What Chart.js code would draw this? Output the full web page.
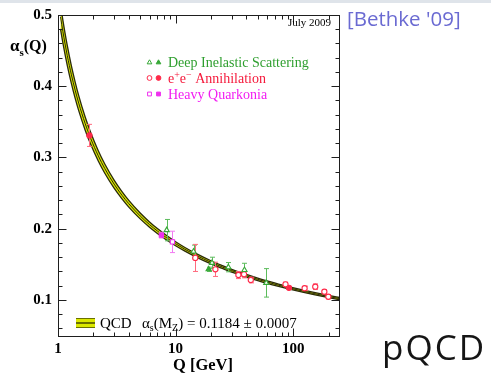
<!DOCTYPE html>
<html><head><meta charset="utf-8">
<script src="https://cdn.jsdelivr.net/npm/chart.js@4.4.0/dist/chart.umd.min.js"></script>
<style>
html,body{margin:0;padding:0;background:#fff;}
#wrap{position:relative;width:491px;height:374px;overflow:hidden;background:#fff;}
#topbar{position:absolute;left:0;top:0;width:491px;height:3px;background:#dfe4ea;}
#bethke{position:absolute;left:347px;top:8px;font-family:"Open Sans";font-size:20.5px;color:#6a6ad2;white-space:nowrap;line-height:1;}
#pqcd{position:absolute;left:382px;top:329px;font-family:"Open Sans";font-size:35px;color:#151515;letter-spacing:2px;white-space:nowrap;line-height:1;}
canvas{position:absolute;left:0;top:0;}
</style></head>
<body>
<div id="wrap">
<canvas id="c" width="491" height="374"></canvas>
<div id="topbar"></div>
<div id="bethke">[Bethke '09]</div>
<div id="pqcd">pQCD</div>
</div>
<script>
// ---- data ----
const bandQ = [1.05,1.1,1.2,1.3,1.4,1.5,1.7,1.9,2.2,2.5,3.0,3.5,4.0,5.0,6.0,7.0,8.5,10,12,15,20,25,30,40,50,60,75,91,120,150,200,250];
const bandCentral = [0.4975,0.4769,0.4429,0.4161,0.3944,0.3763,0.3479,0.3264,0.3023,0.2844,0.2626,0.2470,0.2351,0.2179,0.2058,0.1968,0.1866,0.1789,0.1711,0.1626,0.1528,0.1462,0.1411,0.1340,0.1289,0.1251,0.1207,0.1172,0.1125,0.1090,0.1048,0.1018];
const bandUpper = [0.5145,0.4929,0.4569,0.4286,0.4059,0.3868,0.3571,0.3346,0.3095,0.2909,0.2683,0.2521,0.2398,0.2220,0.2095,0.2002,0.1897,0.1817,0.1737,0.1650,0.1550,0.1482,0.1430,0.1358,0.1306,0.1268,0.1223,0.1188,0.1141,0.1106,0.1064,0.1034];
const bandLower = [0.4805,0.4609,0.4289,0.4036,0.3829,0.3658,0.3387,0.3182,0.2951,0.2779,0.2569,0.2419,0.2304,0.2138,0.2021,0.1934,0.1835,0.1761,0.1685,0.1602,0.1506,0.1442,0.1392,0.1322,0.1272,0.1234,0.1191,0.1156,0.1109,0.1074,0.1032,0.1002];

const disOpenQ = [8.4, 14.2, 20.4, 28.1, 38.5, 59];
const disOpenA = [0.198, 0.168, 0.152, 0.146, 0.142, 0.124];
const disOpenErr = [0.015, 0.009, 0.008, 0.0065, 0.0095, 0.020];
const disFilledQ = [19.1];
const disFilledA = [0.143];
const disFilledErr = [0.003];

const eeOpenQ = [14.7, 21.8, 34.2, 38.2, 43.6, 86, 125, 154, 184, 199];
const eeOpenA = [0.159, 0.143, 0.135, 0.136, 0.128, 0.122, 0.1164, 0.1186, 0.1116, 0.1045];
const eeOpenErr = [0.019, 0.010, 0.005, 0.005, 0.004, 0.003, 0.003, 0.004, 0.003, 0.003];
const eeFilledQ = [1.85, 92];
const eeFilledA = [0.331, 0.117];
const eeFilledErr = [0.0155, 0.002];

const hqOpenQ = [9.4];
const hqOpenA = [0.1815];
const hqOpenErr = [0.015];
const hqFilledQ = [7.57];
const hqFilledA = [0.191];
const hqFilledErr = [0.004];

const yTickLabels = [0.1, 0.2, 0.3, 0.4, 0.5];
const xTickLabels = [1, 10, 100];
const yMinorTicks = [0.06,0.08,0.12,0.14,0.16,0.18,0.22,0.24,0.26,0.28,0.32,0.34,0.36,0.38,0.42,0.44,0.46,0.48];
const xMinorTicks = [2,3,4,5,6,7,8,9,20,30,40,50,60,70,80,90,200];

// ---- colours ----
const GREEN = '#36a836', GREEN_BAR = '#5cbc5c', GREEN_TXT = '#2f9f2f';
const RED = '#ff2a4a', RED_BAR = '#ff6a7e', RED_TXT = '#f5183a';
const MAG = '#ee30ee', MAG_BAR = '#f27af2', MAG_TXT = '#f21cf2';
const BAND_EDGE = '#2b2b0a', BAND_FILL = '#dbe800';

const zip = (xs, ys) => xs.map((x, i) => ({x: x, y: ys[i]}));

const pointSets = [
  {q: disOpenQ, a: disOpenA, e: disOpenErr, style: 'triangle', col: GREEN, bar: GREEN_BAR, open: true},
  {q: disFilledQ, a: disFilledA, e: disFilledErr, style: 'triangle', col: GREEN, bar: GREEN_BAR, open: false},
  {q: eeOpenQ, a: eeOpenA, e: eeOpenErr, style: 'circle', col: RED, bar: RED_BAR, open: true},
  {q: eeFilledQ, a: eeFilledA, e: eeFilledErr, style: 'circle', col: RED, bar: RED_BAR, open: false},
  {q: hqOpenQ, a: hqOpenA, e: hqOpenErr, style: 'rect', col: MAG, bar: MAG_BAR, open: true},
  {q: hqFilledQ, a: hqFilledA, e: hqFilledErr, style: 'rect', col: MAG, bar: MAG_BAR, open: false}
];

const datasets = pointSets.map(s => ({
  type: 'scatter',
  data: zip(s.q, s.a),
  showLine: false,
  pointStyle: s.style,
  pointRadius: s.style === 'circle' ? 2.6 : 3,
  pointBorderWidth: 1.1,
  pointBorderColor: s.col,
  pointBackgroundColor: s.open ? '#ffffff' : s.col,
  borderColor: s.col,
  backgroundColor: s.open ? '#ffffff' : s.col
}));
const CENTER_IDX = datasets.length;
datasets.push({data: zip(bandQ, bandCentral), borderColor: BAND_EDGE, borderWidth: 1, pointRadius: 0, fill: false, cubicInterpolationMode: 'monotone'});
datasets.push({data: zip(bandQ, bandLower), borderColor: BAND_EDGE, borderWidth: 1.3, pointRadius: 0, fill: false, cubicInterpolationMode: 'monotone'});
datasets.push({data: zip(bandQ, bandUpper), borderColor: BAND_EDGE, borderWidth: 1.3, pointRadius: 0, fill: '-1', backgroundColor: BAND_FILL, cubicInterpolationMode: 'monotone'});

const SERIF = '"Liberation Serif", "Times New Roman", serif';

const errorBars = {
  id: 'errorBars',
  afterDatasetDraw(chart, args) {
    if (args.index !== CENTER_IDX) return;
    const ctx = chart.ctx, xs = chart.scales.x, ys = chart.scales.y;
    ctx.save();
    ctx.lineWidth = 1;
    pointSets.forEach(s => {
      ctx.strokeStyle = s.bar;
      s.q.forEach((q, i) => {
        const px = Math.round(xs.getPixelForValue(q)) + 0.5;
        const y1 = ys.getPixelForValue(s.a[i] + s.e[i]);
        const y2 = ys.getPixelForValue(s.a[i] - s.e[i]);
        ctx.beginPath();
        ctx.moveTo(px, y1); ctx.lineTo(px, y2);
        ctx.moveTo(px - 2.5, y1); ctx.lineTo(px + 2.5, y1);
        ctx.moveTo(px - 2.5, y2); ctx.lineTo(px + 2.5, y2);
        ctx.stroke();
      });
    });
    ctx.restore();
  }
};

function marker(ctx, style, x, y, col, open) {
  ctx.save();
  ctx.strokeStyle = col;
  ctx.fillStyle = open ? '#ffffff' : col;
  ctx.lineWidth = 1;
  Chart.helpers.drawPoint(ctx, {pointStyle: style, radius: style === 'circle' ? 2.4 : 2.7, rotation: 0, borderWidth: 1}, x, y);
  ctx.restore();
}

function subText(ctx, parts, x, y) {
  parts.forEach(p => {
    ctx.font = p[1];
    ctx.fillText(p[0], x, y + (p[2] || 0));
    x += ctx.measureText(p[0]).width;
  });
  return x;
}

const frameAndText = {
  id: 'frameAndText',
  afterDraw(chart) {
    const ctx = chart.ctx, a = chart.chartArea, xs = chart.scales.x, ys = chart.scales.y;
    ctx.save();
    ctx.strokeStyle = '#1e1e1e';
    ctx.lineWidth = 1;
    ctx.strokeRect(Math.round(a.left) + 0.5, Math.round(a.top) + 0.5, Math.round(a.right - a.left) - 1, Math.round(a.bottom - a.top) - 1);
    ctx.beginPath();
    const L = Math.round(a.left) + 0.5, R = Math.round(a.right) - 0.5;
    const T = Math.round(a.top) + 0.5, B = Math.round(a.bottom) - 0.5;
    yTickLabels.concat(yMinorTicks).forEach(v => {
      const len = yTickLabels.includes(v) ? 8 : 4;
      const py = Math.round(ys.getPixelForValue(v)) + 0.5;
      ctx.moveTo(L, py); ctx.lineTo(L + len, py);
      ctx.moveTo(R, py); ctx.lineTo(R - len, py);
    });
    xTickLabels.concat(xMinorTicks).forEach(v => {
      const len = xTickLabels.includes(v) ? 8 : 4;
      const px = Math.round(xs.getPixelForValue(v)) + 0.5;
      ctx.moveTo(px, B); ctx.lineTo(px, B - len);
      ctx.moveTo(px, T); ctx.lineTo(px, T + len);
    });
    ctx.stroke();

    ctx.fillStyle = '#000';
    ctx.textBaseline = 'alphabetic';
    ctx.textAlign = 'left';
    subText(ctx, [['α', 'bold 17px ' + SERIF, 0], ['s', 'bold 11px ' + SERIF, 5], ['(Q)', 'bold 16px ' + SERIF, 0]], 10, 51);
    ctx.textAlign = 'center';
    ctx.font = 'bold 16.5px ' + SERIF;
    ctx.fillText('Q [GeV]', 203, 370);
    ctx.textAlign = 'right';
    ctx.font = '11px ' + SERIF;
    ctx.fillText('July 2009', 331, 26);
    ctx.textAlign = 'left';
    marker(ctx, 'triangle', 149.5, 62.5, GREEN, true);
    marker(ctx, 'triangle', 158.5, 62.5, GREEN, false);
    marker(ctx, 'circle', 149.5, 78, RED, true);
    marker(ctx, 'circle', 158.5, 78, RED, false);
    marker(ctx, 'rect', 149.5, 94, MAG, true);
    marker(ctx, 'rect', 158.5, 94, MAG, false);
    ctx.font = '14px ' + SERIF;
    ctx.fillStyle = GREEN_TXT;
    ctx.fillText('Deep Inelastic Scattering', 168, 67);
    ctx.fillStyle = RED_TXT;
    subText(ctx, [['e', '14px ' + SERIF, 0], ['+', '10px ' + SERIF, -5], ['e', '14px ' + SERIF, 0], ['−', '10px ' + SERIF, -5], [' Annihilation', '14px ' + SERIF, 0]], 168, 83);
    ctx.fillStyle = MAG_TXT;
    ctx.font = '14px ' + SERIF;
    ctx.fillText('Heavy Quarkonia', 168, 99);
    ctx.fillStyle = '#6b7000';
    ctx.fillRect(76, 318, 19, 10);
    ctx.fillStyle = BAND_FILL;
    ctx.fillRect(76, 319, 19, 3);
    ctx.fillRect(76, 324, 19, 3);
    ctx.fillStyle = '#000';
    ctx.font = '15px ' + SERIF;
    ctx.fillText('QCD', 100, 328);
    subText(ctx, [['α', '15px ' + SERIF, 0], ['s', '10px ' + SERIF, 3], ['(M', '15px ' + SERIF, 0], ['Z', '10px ' + SERIF, 3], [') = 0.1184 ± 0.0007', '15px ' + SERIF, 0]], 142, 328);
    ctx.restore();
  }
};

new Chart(document.getElementById('c'), {
  type: 'line',
  data: {datasets: datasets},
  plugins: [errorBars, frameAndText],
  options: {
    responsive: false,
    animation: false,
    layout: {padding: {left: 0, right: 151, top: 13, bottom: 0}},
    plugins: {legend: {display: false}, tooltip: {enabled: false}},
    elements: {line: {tension: 0}},
    scales: {
      x: {
        type: 'logarithmic', min: 1, max: 250,
        grid: {display: false, drawTicks: false},
        border: {display: false},
        afterFit: s => { s.height = 37; },
        afterBuildTicks: s => { s.ticks = xTickLabels.map(v => ({value: v, major: true})); },
        ticks: {
          padding: 3, color: '#000', maxRotation: 0, autoSkip: false,
          font: {family: SERIF, size: 15, weight: 'bold'},
          callback: v => String(v)
        }
      },
      y: {
        type: 'linear', min: 0.048, max: 0.5,
        grid: {display: false, drawTicks: false},
        border: {display: false},
        afterFit: s => { s.width = 58; },
        afterBuildTicks: s => { s.ticks = yTickLabels.map(v => ({value: v})); },
        ticks: {
          padding: 6, color: '#000',
          font: {family: SERIF, size: 15, weight: 'bold'},
          callback: v => v.toFixed(1)
        }
      }
    }
  }
});
</script>
</body></html>
